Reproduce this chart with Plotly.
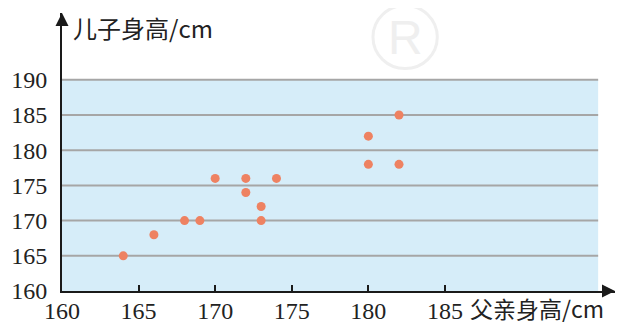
import plotly.graph_objects as go

father = [164, 166, 168, 169, 173, 173, 170, 172, 172, 174, 180, 180, 182, 182]
son = [165, 168, 170, 170, 170, 172, 176, 176, 174, 176, 182, 178, 185, 178]
x_ticks = [160, 165, 170, 175, 180, 185]
y_ticks = [160, 165, 170, 175, 180, 185, 190]
x_title = "父亲身高/cm"
y_title = "儿子身高/cm"

XMIN, YMIN = 160, 160
X_ARROW, Y_ARROW = 196.1, 199.5
BG_XMAX, BG_YMAX = 195, 190

serif = "Liberation Serif, Times New Roman, serif"
cjk = "Noto Sans CJK SC, sans-serif"
ink = "#1a1a1a"
wm = "#EFEFEF"

fig = go.Figure()
fig.add_trace(go.Scatter(x=father, y=son, mode="markers",
                         marker=dict(size=9, color="#EE8262"),
                         hoverinfo="skip", cliponaxis=False))

shapes = [dict(type="rect", xref="x", yref="y", x0=XMIN, x1=BG_XMAX, y0=YMIN, y1=BG_YMAX,
               fillcolor="#D6EDF9", line=dict(width=0), layer="below")]
for yv in y_ticks[1:]:
    shapes.append(dict(type="line", xref="x", yref="y", x0=XMIN, x1=BG_XMAX, y0=yv, y1=yv,
                       line=dict(color="#A6A6A6", width=2), layer="below"))
# faint registered-mark watermark ring
shapes.append(dict(type="circle", xref="x", yref="paper", x0=180.3, x1=184.5, y0=0.800, y1=1.027,
                   line=dict(color=wm, width=3), layer="below"))

annotations = [
    dict(x=1, y=0, xref="paper", yref="paper", ax=-14, ay=0,
         text="", showarrow=True, arrowhead=2, arrowsize=1.3, arrowwidth=2, arrowcolor=ink),
    dict(x=0, y=1, xref="paper", yref="paper", ax=0, ay=14,
         text="", showarrow=True, arrowhead=2, arrowsize=1.3, arrowwidth=2, arrowcolor=ink),
    dict(x=186.6, y=0, xref="x", yref="paper", xanchor="left", yanchor="middle", yshift=-17,
         text=x_title, showarrow=False, font=dict(family=cjk, size=23, color="#222"),
         borderpad=0),
    dict(x=160.6, y=197.5, xref="x", yref="y", xanchor="left", yanchor="middle",
         text=y_title, showarrow=False, font=dict(family=cjk, size=24, color="#222")),
    dict(x=182.4, y=0.9135, xref="x", yref="paper", xanchor="center", yanchor="middle",
         text="R", showarrow=False, font=dict(family="Liberation Sans", size=48, color=wm)),
]

# The page body adds an 8px margin, so the figure is drawn 8px smaller and shifted.
fig.update_layout(
    width=617, height=315,
    margin=dict(l=54, r=10, t=5, b=32, autoexpand=False),
    paper_bgcolor="white", plot_bgcolor="rgba(0,0,0,0)",
    showlegend=False,
    shapes=shapes, annotations=annotations,
    xaxis=dict(range=[XMIN, X_ARROW], tickvals=x_ticks, ticktext=[str(v) for v in x_ticks],
               ticks="inside", ticklen=6, tickwidth=2, tickcolor=ink,
               showline=True, linecolor=ink, linewidth=2,
               showgrid=False, zeroline=False, automargin=False,
               ticklabelstandoff=-3,
               tickfont=dict(family=serif, size=24, color="#222")),
    yaxis=dict(range=[YMIN, Y_ARROW], tickvals=y_ticks, ticktext=[str(v) for v in y_ticks],
               ticks="", showline=True, linecolor=ink, linewidth=2,
               showgrid=False, zeroline=False, automargin=False,
               ticklabelstandoff=8,
               tickfont=dict(family=serif, size=24, color="#222")),
)

fig.write_html("out.html")
